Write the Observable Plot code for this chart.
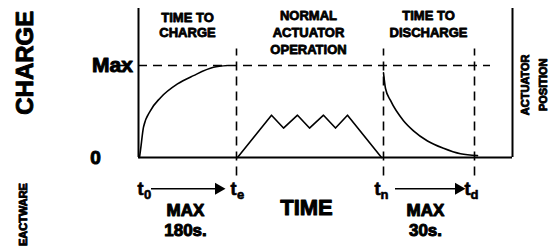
<!DOCTYPE html>
<html><head><meta charset="utf-8">
<script src="https://cdn.jsdelivr.net/npm/d3@7"></script>
<script src="https://cdn.jsdelivr.net/npm/@observablehq/plot@0.6"></script>
<style>body{margin:0;background:#fff}#c svg{display:block}</style>
</head><body><div id="c"></div>
<script>
// Time units (arbitrary) and charge (0 = empty, 1 = Max)
const tStart = 0, tCharged = 98, tStop = 245, tDischarged = 336, tEnd = 374;
const chargeT = [1, 2, 5, 12, 22, 39, 55, 75, 89];
const chargeV = [0, 0.08, 0.33, 0.51, 0.65, 0.80, 0.89, 0.98, 1.0];
const actT = [99, 133, 145, 159, 171, 185, 197, 209, 243];
const actV = [0, 0.46, 0.32, 0.46, 0.32, 0.46, 0.32, 0.46, 0];
const disT = [245, 247, 252, 265, 275, 289, 305, 322, 339];
const disV = [0.92, 0.75, 0.62, 0.40, 0.29, 0.18, 0.10, 0.04, 0.02];
const markers = [tCharged, tStop, tDischarged];

// Annotations: text, x (time units), y (charge units)
const bigLabels = [
  {text: "Max", x: -26, y: 1, size: 21, anchor: "end"},
  {text: "0", x: -43, y: 0, size: 19, anchor: "middle"},
  {text: "TIME", x: 168, y: -0.55, size: 22, anchor: "middle"},
  {text: "MAX", x: 47, y: -0.58, size: 17, anchor: "middle"},
  {text: "180s.", x: 47, y: -0.79, size: 17, anchor: "middle"},
  {text: "MAX", x: 287, y: -0.58, size: 17, anchor: "middle"},
  {text: "30s.", x: 287, y: -0.79, size: 17, anchor: "middle"}
];
const headLabels = [
  {text: "TIME TO", x: 49, y: 1.52},
  {text: "CHARGE", x: 49, y: 1.35},
  {text: "NORMAL", x: 170, y: 1.54},
  {text: "ACTUATOR", x: 170, y: 1.36},
  {text: "OPERATION", x: 170, y: 1.17},
  {text: "TIME TO", x: 290, y: 1.54},
  {text: "DISCHARGE", x: 290, y: 1.35}
];
const rotLabels = [
  {text: "CHARGE", x: -113, y: 1.03, size: 24},
  {text: "EACTWARE", x: -115, y: -0.62, size: 11},
  {text: "ACTUATOR", x: 387, y: 0.79, size: 11},
  {text: "POSITION", x: 405, y: 0.79, size: 11}
];
const tLabels = [
  {t: "t", sub: "0", x: 5},
  {t: "t", sub: "e", x: 98},
  {t: "t", sub: "n", x: 242},
  {t: "t", sub: "d", x: 332}
];
const arrows = [{x1: 13, x2: 80}, {x1: 257, x2: 320}];

const font = "'Liberation Sans', Arial, sans-serif";
const toRows = (ts, vs) => ts.map((t, i) => ({t, v: vs[i]}));

const plot = Plot.plot({
  width: 550, height: 252,
  marginLeft: 138, marginRight: 38, marginTop: 8, marginBottom: 95,
  x: {domain: [0, 374], axis: null},
  y: {domain: [0, 149 / 92], axis: null},
  style: {fontFamily: font, background: "#fff"},
  marks: [
    Plot.ruleY([1], {x1: 0, x2: 352, stroke: "#000", strokeWidth: 1.6, strokeDasharray: "9,6"}),
    Plot.ruleY([1], {x1: -24, x2: -10, stroke: "#000", strokeWidth: 1.6}),
    Plot.ruleX(markers, {y1: -0.2, y2: 1.18, stroke: "#000", strokeWidth: 1.6, strokeDasharray: "9,6"}),
    Plot.ruleX([tStart, tEnd], {y1: 0, y2: 149 / 92, stroke: "#000", strokeWidth: 2}),
    Plot.ruleY([0], {x1: tStart, x2: tEnd, stroke: "#000", strokeWidth: 2}),
    Plot.line(toRows(chargeT, chargeV), {x: "t", y: "v", curve: "monotone-x", stroke: "#000", strokeWidth: 1.6}),
    Plot.line(toRows(actT, actV), {x: "t", y: "v", stroke: "#000", strokeWidth: 1.6}),
    Plot.line(toRows(disT, disV), {x: "t", y: "v", curve: "monotone-x", stroke: "#000", strokeWidth: 1.6}),
    Plot.ruleY(arrows, {x1: "x1", x2: "x2", y: -0.34, stroke: "#000", strokeWidth: 1.5}),
    Plot.dot(arrows, {x: "x2", y: -0.34, symbol: "triangle", rotate: 90, r: 4.5, fill: "#000", stroke: "none"}),
    Plot.text(bigLabels, {x: "x", y: "y", text: "text", fontSize: d => d.size, textAnchor: "anchor", fontWeight: "bold", fill: "#000", stroke: "#000", strokeWidth: 1}),
    Plot.text(headLabels, {x: "x", y: "y", text: "text", fontSize: 13, fontWeight: "bold", fill: "#000", stroke: "#000", strokeWidth: 0.8}),
    Plot.text(rotLabels, {x: "x", y: "y", text: "text", fontSize: d => d.size, rotate: -90, fontWeight: "bold", fill: "#000", stroke: "#000", strokeWidth: 0.9}),
    Plot.text(tLabels, {x: "x", y: -0.34, text: "t", dx: -3, fontSize: 18, fontWeight: "bold", fill: "#000", stroke: "#000", strokeWidth: 0.7}),
    Plot.text(tLabels, {x: "x", y: -0.41, text: "sub", dx: 4, fontSize: 13, fontWeight: "bold", fill: "#000", stroke: "#000", strokeWidth: 0.6})
  ]
});
document.getElementById("c").append(plot);
</script></body></html>
